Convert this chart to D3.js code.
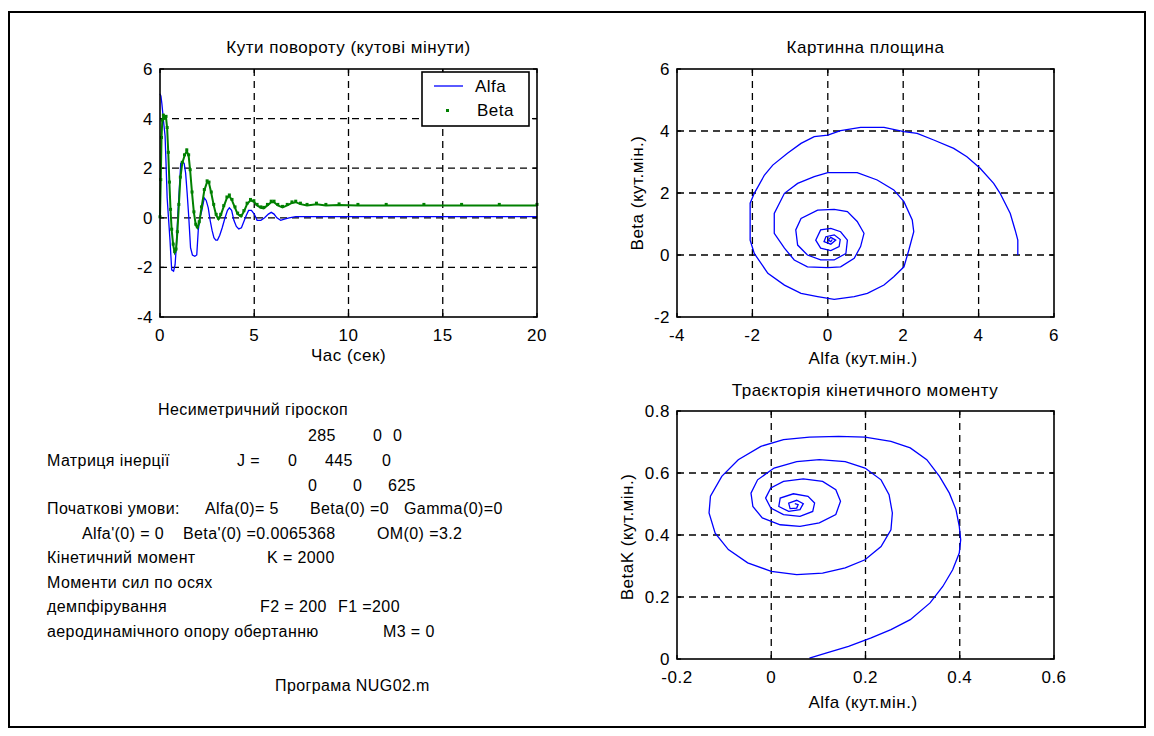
<!DOCTYPE html>
<meta charset="utf-8">
<script src="https://d3js.org/d3.v7.min.js"></script>
<style>
  body { margin: 0; background: #fff; }
  text { font-family: Arial, "Liberation Sans", sans-serif; font-size: 17px; letter-spacing: 0.5px; fill: #000; }
  .info text { font-size: 16px; letter-spacing: 0.4px; }
</style>
<div id="chart"></div>
<script>

  // ---- data ----
  // time series [t (sec), value (кутові мінути)]
  const alfaSeries = [[0,5],[0.05,4.9],[0.1,4.6],[0.2,3.8],[0.27,3.3],[0.32,2.2],[0.38,0.8],[0.45,0],[0.53,-0.9],
    [0.62,-2.1],[0.72,-2.15],[0.8,-1.9],[0.88,-1],[0.95,0.2],[1.02,1.1],[1.1,2.2],[1.2,2.25],[1.28,2.2],[1.36,1.8],
    [1.44,1],[1.52,0.1],[1.62,-1.2],[1.72,-1.5],[1.85,-1.55],[1.95,-1.5],[2.03,-0.5],[2.12,0],[2.22,0.3],[2.35,0.8],
    [2.45,0.7],[2.56,0.4],[2.66,-0.1],[2.76,-0.5],[2.86,-0.8],[2.96,-0.9],[3.05,-0.9],[3.17,-0.7],[3.3,-0.4],[3.45,0],
    [3.58,0.3],[3.68,0.4],[3.8,0.3],[3.92,-0.1],[4.05,-0.35],[4.18,-0.45],[4.32,-0.4],[4.45,-0.15],[4.58,0.1],[4.7,0.3],
    [4.85,0.3],[5,0.15],[5.15,-0.1],[5.35,-0.1],[5.55,0],[5.75,0.15],[5.9,0.22],[6.05,0.15],[6.2,0],[6.4,-0.1],
    [6.6,-0.05],[6.85,0],[7.2,0.05],[8,0.05],[10,0.05],[12,0.05],[15,0.05],[20,0.05]];

  const betaSeries = [[0,0],[0.04,1.5],[0.08,3.2],[0.12,3.9],[0.18,4.1],[0.25,4],[0.32,4.05],[0.38,3.6],[0.44,2.6],
    [0.5,1.4],[0.56,0.3],[0.62,-0.5],[0.7,-1.1],[0.78,-1.4],[0.85,-1.3],[0.92,-0.6],[1,0.5],[1.08,1.6],[1.18,2.2],
    [1.3,2.5],[1.42,2.7],[1.52,2.5],[1.6,1.9],[1.7,1],[1.8,0.2],[1.9,-0.3],[1.98,-0.4],[2.08,-0.2],[2.2,0.4],[2.35,1.1],
    [2.5,1.45],[2.6,1.4],[2.72,1],[2.85,0.5],[2.98,0.1],[3.1,-0.05],[3.22,0.1],[3.38,0.45],[3.55,0.8],[3.68,0.88],
    [3.82,0.7],[3.98,0.4],[4.12,0.15],[4.3,0.05],[4.45,0.25],[4.62,0.55],[4.8,0.7],[4.98,0.65],[5.15,0.5],[5.35,0.4],
    [5.5,0.38],[5.7,0.5],[5.9,0.63],[6.05,0.63],[6.25,0.5],[6.5,0.42],[6.75,0.5],[7,0.6],[7.2,0.63],[7.45,0.55],
    [7.8,0.5],[8.3,0.55],[8.8,0.5],[9.5,0.52],[10.5,0.5],[12,0.5],[14,0.5],[16,0.5],[18,0.5],[20,0.5]];

  // picture plane [Alfa, Beta]
  const phasePlane = [[5.04,0],[5.04,0.48],[4.97,0.8],[4.84,1.34],[4.57,1.99],[4.4,2.31],[4.04,2.8],[3.69,3.17],
    [3.34,3.44],[2.81,3.71],[2.37,3.92],[2.02,3.98],[1.49,4.12],[0.87,4.12],[0.34,4.01],[0,3.87],[-0.36,3.82],
    [-0.71,3.6],[-1.07,3.28],[-1.46,2.9],[-1.68,2.58],[-1.95,1.99],[-2.06,1.67],[-2.06,0.48],[-1.95,0.05],
    [-1.59,-0.59],[-1.15,-0.97],[-0.71,-1.24],[-0.27,-1.34],[0.17,-1.43],[0.7,-1.34],[1.05,-1.24],[1.49,-0.97],
    [1.75,-0.7],[2.02,-0.38],[2.15,0.16],[2.28,0.75],[2.24,1.13],[2.02,1.72],[1.75,2.1],[1.31,2.42],[0.78,2.66],
    [0,2.66],[-0.36,2.53],[-0.8,2.31],[-1.15,1.99],[-1.42,1.34],[-1.42,0.7],[-1.15,0.22],[-0.89,-0.16],[-0.54,-0.38],
    [0,-0.41],[0.34,-0.38],[0.7,-0.11],[0.87,0.27],[0.96,0.7],[0.78,1.08],[0.52,1.4],[0.17,1.47],[-0.27,1.45],
    [-0.71,1.18],[-0.85,0.81],[-0.8,0.32],[-0.54,0],[-0.19,-0.16],[0.17,-0.16],[0.48,0.05],[0.52,0.48],[0.34,0.75],
    [0.08,0.86],[-0.19,0.81],[-0.32,0.48],[-0.19,0.22],[0.08,0.14],[0.3,0.27],[0.33,0.5],[0.17,0.65],[-0.05,0.59],
    [-0.1,0.43],[0.08,0.35],[0.21,0.48],[0.08,0.57],[0.01,0.48],[0.08,0.43],[0.12,0.5]];

  // kinetic moment trajectory [Alfa, BetaK]
  const kineticPath = [[0.081,0.003],[0.116,0.019],[0.164,0.041],[0.212,0.068],[0.254,0.095],[0.295,0.127],
    [0.337,0.181],[0.364,0.234],[0.385,0.288],[0.399,0.342],[0.402,0.385],[0.399,0.428],[0.392,0.482],[0.378,0.535],
    [0.357,0.589],[0.33,0.643],[0.295,0.681],[0.254,0.702],[0.199,0.716],[0.143,0.718],[0.081,0.716],[0.026,0.708],
    [-0.022,0.686],[-0.07,0.643],[-0.105,0.589],[-0.129,0.525],[-0.132,0.471],[-0.119,0.406],[-0.091,0.353],
    [-0.05,0.31],[0,0.283],[0.054,0.272],[0.109,0.277],[0.157,0.294],[0.199,0.32],[0.233,0.363],[0.254,0.417],
    [0.257,0.471],[0.25,0.53],[0.233,0.578],[0.199,0.616],[0.157,0.637],[0.102,0.643],[0.054,0.637],[0.006,0.616],
    [-0.029,0.578],[-0.043,0.535],[-0.039,0.492],[-0.019,0.455],[0.019,0.433],[0.061,0.428],[0.102,0.439],
    [0.137,0.466],[0.147,0.509],[0.137,0.546],[0.109,0.573],[0.068,0.581],[0.026,0.573],[-0.001,0.552],
    [-0.012,0.519],[-0.001,0.487],[0.026,0.466],[0.061,0.46],[0.088,0.476],[0.092,0.503],[0.078,0.525],
    [0.047,0.533],[0.019,0.519],[0.016,0.492],[0.037,0.476],[0.061,0.482],[0.068,0.501],[0.054,0.512],
    [0.037,0.503],[0.04,0.485],[0.054,0.487],[0.057,0.498],[0.05,0.501]];

  // tick values
  const timeTicks = [0, 5, 10, 15, 20];
  const angleTicks = [-4, -2, 0, 2, 4, 6];
  const phaseXTicks = [-4, -2, 0, 2, 4, 6];
  const phaseYTicks = [-2, 0, 2, 4, 6];
  const kinXTicks = [-0.2, 0, 0.2, 0.4, 0.6];
  const kinYTicks = [0, 0.2, 0.4, 0.6, 0.8];

  // titles and labels
  const titles = ["Кути повороту (кутові мінути)", "Картинна площина", "Траєкторія кінетичного моменту"];
  const xLabels = ["Час (сек)", "Alfa (кут.мін.)", "Alfa (кут.мін.)"];
  const yLabels = ["", "Beta (кут.мін.)", "BetaK (кут.мін.)"];
  const legendNames = ["Alfa", "Beta"];

  // parameter text block (one entry per text piece)
  const infoText = ["Несиметричний гіроскоп",
    "285", "0", "0",
    "Матриця інерції", "J =", "0", "445", "0",
    "0", "0", "625",
    "Початкові умови:", "Alfa(0)= 5", "Beta(0) =0", "Gamma(0)=0",
    "Alfa'(0) = 0", "Beta'(0) =0.0065368", "OM(0) =3.2",
    "Кінетичний момент", "K =  2000",
    "Моменти сил по осях",
    "демпфірування", "F2 = 200", "F1 =200",
    "аеродинамічного опору обертанню", "M3 = 0",
    "Програма NUG02.m"];

  // ---- drawing ----
  const svg = d3.select("#chart").append("svg")
    .attr("width", 1154)
    .attr("height", 736);

  svg.append("rect")
    .attr("x", 9).attr("y", 12)
    .attr("width", 1136).attr("height", 715)
    .attr("fill", "none")
    .attr("stroke", "#000")
    .attr("stroke-width", 2);

  const fmt = d => String(d);

  // builds one MATLAB-like axes box and returns its scales
  function makePanel(box, xDomain, yDomain, xTicks, yTicks) {
    const x = d3.scaleLinear().domain(xDomain).range([box.left, box.right]);
    const y = d3.scaleLinear().domain(yDomain).range([box.bottom, box.top]);
    const g = svg.append("g");

    // dashed grid
    g.selectAll(".vgrid").data(xTicks.filter(d => d > xDomain[0] && d < xDomain[1]))
      .join("line")
      .attr("x1", d => x(d)).attr("x2", d => x(d))
      .attr("y1", box.top).attr("y2", box.bottom)
      .attr("stroke", "#000").attr("stroke-width", 1.3).attr("stroke-dasharray", "7,5");
    g.selectAll(".hgrid").data(yTicks.filter(d => d > yDomain[0] && d < yDomain[1]))
      .join("line")
      .attr("x1", box.left).attr("x2", box.right)
      .attr("y1", d => y(d)).attr("y2", d => y(d))
      .attr("stroke", "#000").attr("stroke-width", 1.3).attr("stroke-dasharray", "7,5");

    // inward tick marks on all four sides
    [box.bottom, box.top].forEach((yy, i) => {
      g.append("g").selectAll("line").data(xTicks).join("line")
        .attr("x1", d => x(d)).attr("x2", d => x(d))
        .attr("y1", yy).attr("y2", i === 0 ? yy - 4 : yy + 4)
        .attr("stroke", "#000").attr("stroke-width", 1.3);
    });
    [box.left, box.right].forEach((xx, i) => {
      g.append("g").selectAll("line").data(yTicks).join("line")
        .attr("y1", d => y(d)).attr("y2", d => y(d))
        .attr("x1", xx).attr("x2", i === 0 ? xx + 4 : xx - 4)
        .attr("stroke", "#000").attr("stroke-width", 1.3);
    });

    // tick labels
    g.selectAll(".xl").data(xTicks).join("text")
      .attr("x", d => x(d)).attr("y", box.bottom + 24)
      .attr("text-anchor", "middle")
      .text(fmt);
    g.selectAll(".yl").data(yTicks).join("text")
      .attr("x", box.left - 7).attr("y", d => y(d) + 6)
      .attr("text-anchor", "end")
      .text(fmt);

    return { x, y, g };
  }

  function drawBox(g, box) {
    g.append("rect")
      .attr("x", box.left).attr("y", box.top)
      .attr("width", box.right - box.left).attr("height", box.bottom - box.top)
      .attr("fill", "none")
      .attr("stroke", "#000")
      .attr("stroke-width", 1.6);
  }

  // ---- panel 1: angles vs time ----
  const box1 = { left: 160, right: 537, top: 69, bottom: 317 };
  const p1 = makePanel(box1, [0, 20], [-4, 6], timeTicks, angleTicks);

  const line1 = d3.line().x(d => p1.x(d[0])).y(d => p1.y(d[1]));
  p1.g.append("path").datum(alfaSeries)
    .attr("fill", "none").attr("stroke", "#0000ff").attr("stroke-width", 1.3)
    .attr("d", line1);
  p1.g.append("path").datum(betaSeries)
    .attr("fill", "none").attr("stroke", "#008000").attr("stroke-width", 2)
    .attr("d", line1);
  p1.g.selectAll(".bdot").data(betaSeries).join("rect")
    .attr("x", d => p1.x(d[0]) - 1.5).attr("y", d => p1.y(d[1]) - 2.5)
    .attr("width", 3).attr("height", 3)
    .attr("fill", "#008000");
  drawBox(p1.g, box1);

  p1.g.append("text")
    .attr("x", (box1.left + box1.right) / 2).attr("y", 53)
    .attr("text-anchor", "middle").text(titles[0]);
  p1.g.append("text")
    .attr("x", (box1.left + box1.right) / 2).attr("y", 361)
    .attr("text-anchor", "middle").text(xLabels[0]);

  // legend
  const leg = p1.g.append("g");
  leg.append("rect")
    .attr("x", 422).attr("y", 72).attr("width", 107).attr("height", 54)
    .attr("fill", "#fff").attr("stroke", "#000").attr("stroke-width", 1.6);
  leg.append("line")
    .attr("x1", 434).attr("x2", 463).attr("y1", 86).attr("y2", 86)
    .attr("stroke", "#0000ff").attr("stroke-width", 1.3);
  leg.append("rect")
    .attr("x", 446).attr("y", 109).attr("width", 3).attr("height", 3)
    .attr("fill", "#008000");
  leg.append("text").attr("x", 475).attr("y", 92).text(legendNames[0]);
  leg.append("text").attr("x", 477).attr("y", 116).text(legendNames[1]);

  // ---- panel 2: picture plane ----
  const box2 = { left: 677, right: 1054, top: 69, bottom: 317 };
  const p2 = makePanel(box2, [-4, 6], [-2, 6], phaseXTicks, phaseYTicks);
  p2.g.append("path").datum(phasePlane)
    .attr("fill", "none").attr("stroke", "#0000ff").attr("stroke-width", 1.3)
    .attr("d", d3.line().x(d => p2.x(d[0])).y(d => p2.y(d[1])));
  drawBox(p2.g, box2);
  p2.g.append("text")
    .attr("x", (box2.left + box2.right) / 2).attr("y", 53)
    .attr("text-anchor", "middle").text(titles[1]);
  p2.g.append("text")
    .attr("x", 863).attr("y", 364)
    .attr("text-anchor", "middle").text(xLabels[1]);
  p2.g.append("text")
    .attr("transform", "translate(643,193) rotate(-90)")
    .attr("text-anchor", "middle").text(yLabels[1]);

  // ---- panel 3: kinetic moment trajectory ----
  const box3 = { left: 677, right: 1054, top: 411, bottom: 659 };
  const p3 = makePanel(box3, [-0.2, 0.6], [0, 0.8], kinXTicks, kinYTicks);
  p3.g.append("path").datum(kineticPath)
    .attr("fill", "none").attr("stroke", "#0000ff").attr("stroke-width", 1.3)
    .attr("d", d3.line().x(d => p3.x(d[0])).y(d => p3.y(d[1])));
  drawBox(p3.g, box3);
  p3.g.append("text")
    .attr("x", 865).attr("y", 396)
    .attr("text-anchor", "middle").text(titles[2]);
  p3.g.append("text")
    .attr("x", 863).attr("y", 708)
    .attr("text-anchor", "middle").text(xLabels[2]);
  p3.g.append("text")
    .attr("transform", "translate(633,537) rotate(-90)")
    .attr("text-anchor", "middle").text(yLabels[2]);

  // ---- parameter text block ----
  const infoPos = [[158,415],
    [308,441],[373,441],[393,441],
    [47,466],[237,466],[288,466],[325,466],[382,466],
    [308,491],[353,491],[388,491],
    [47,514],[205,514],[310,514],[404,514],
    [82,539],[183,539],[377,539],
    [47,563],[267,563],
    [47,588],
    [47,612],[260,612],[338,612],
    [47,637],[383,637],
    [275,691]];
  svg.append("g").attr("class", "info")
    .selectAll("text").data(infoText).join("text")
    .attr("x", (d, i) => infoPos[i][0])
    .attr("y", (d, i) => infoPos[i][1])
    .text(d => d);

</script>
